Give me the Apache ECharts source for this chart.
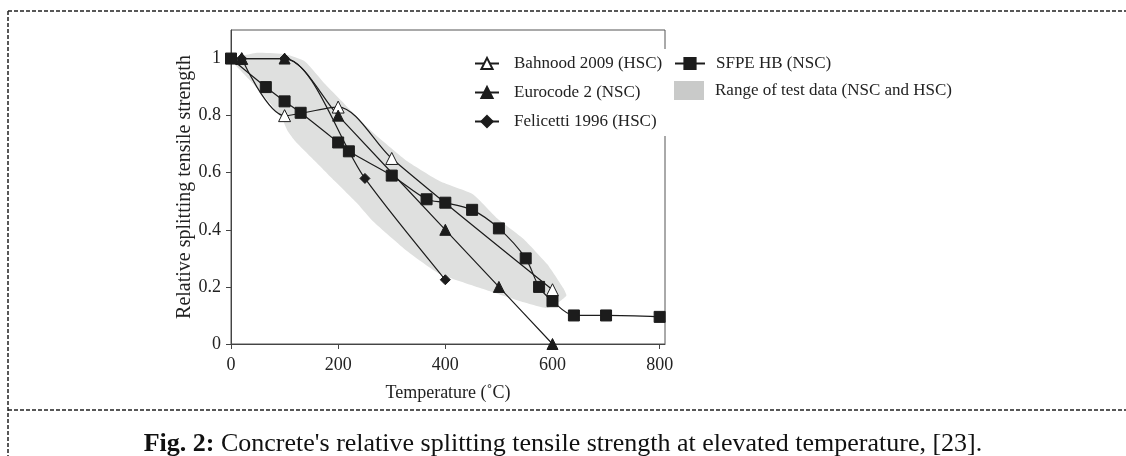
<!DOCTYPE html>
<html>
<head>
<meta charset="utf-8">
<script src="https://cdn.jsdelivr.net/npm/echarts@6/dist/echarts.min.js"></script>
<style>
  html, body { margin: 0; padding: 0; background: #fff; }
  #chart { width: 1126px; height: 456px; }
</style>
</head>
<body>
<div id="chart"></div>
<script>
// temperatures (°C) and relative strengths
const sfpeTemp = [0, 65, 100, 130, 200, 220, 300, 365, 400, 450, 500, 550, 575, 600, 640, 700, 800];
const sfpeVal = [1, 0.9, 0.85, 0.81, 0.706, 0.675, 0.59, 0.507, 0.495, 0.47, 0.405, 0.3, 0.2, 0.15, 0.1, 0.1, 0.095];

const bahnoodTemp = [20, 100, 200, 300, 600];
const bahnoodVal = [1, 0.8, 0.83, 0.65, 0.19];

const eurocodeTemp = [20, 100, 200, 400, 500, 600];
const eurocodeVal = [1, 1, 0.8, 0.4, 0.2, 0];

const felicettiTemp = [20, 100, 250, 400];
const felicettiVal = [1, 1, 0.58, 0.225];

// grey range of test data: upper edge left->right, lower edge right->left
const rangeUpperTemp = [0, 50, 101, 138, 176, 207, 237, 269, 329, 390, 452, 497, 545, 590, 620, 626];
const rangeUpperVal = [1.0, 1.02, 1.015, 0.99, 0.91, 0.85, 0.79, 0.734, 0.64, 0.57, 0.524, 0.44, 0.37, 0.28, 0.196, 0.17];
const rangeLowerTemp = [614, 590, 540, 465, 390, 329, 265, 237, 194, 157, 120, 106, 95, 50, 2];
const rangeLowerVal = [0.15, 0.126, 0.15, 0.196, 0.245, 0.325, 0.43, 0.49, 0.57, 0.64, 0.71, 0.745, 0.79, 0.895, 0.99];

const xTicks = [0, 200, 400, 600, 800];
const yTicks = [0, 0.2, 0.4, 0.6, 0.8, 1];

const zip = (a, b) => a.map((v, i) => [v, b[i]]);
const rangePoly = zip(rangeUpperTemp, rangeUpperVal).concat(zip(rangeLowerTemp, rangeLowerVal));

const serif = '"Liberation Serif", "DejaVu Serif", serif';
const ink = '#1c1c1c';

const chart = echarts.init(document.getElementById('chart'));

const lineSeries = (name, t, v, symbol, size, fill) => ({
  name: name,
  type: 'line',
  data: zip(t, v),
  smooth: 0.3,
  symbol: symbol,
  symbolSize: size,
  showAllSymbol: true,
  lineStyle: { color: ink, width: 1.2 },
  itemStyle: { color: fill, borderColor: ink, borderWidth: 1 },
  z: 3
});

const option = {
  backgroundColor: '#fff',
  animation: false,
  grid: {
    left: 231, right: 461, top: 30, bottom: 112,
    show: true, borderColor: '#555', borderWidth: 1
  },
  xAxis: {
    type: 'value', min: 0, max: 810, interval: 200,
    name: 'Temperature (˚C)', nameLocation: 'middle', nameGap: 40,
    nameTextStyle: { fontFamily: serif, fontSize: 18, color: '#222' },
    axisLine: { lineStyle: { color: '#444' } },
    axisTick: { show: true, length: 5, lineStyle: { color: '#444' } },
    axisLabel: {
      fontFamily: serif, fontSize: 18, color: '#222', margin: 12, showMaxLabel: false,
      formatter: v => xTicks.includes(v) ? String(v) : ''
    },
    splitLine: { show: false }
  },
  yAxis: {
    type: 'value', min: 0, max: 1.1, interval: 0.2,
    name: 'Relative splitting tensile strength', nameLocation: 'middle', nameGap: 36,
    nameTextStyle: { fontFamily: serif, fontSize: 20, color: '#222' },
    axisLine: { lineStyle: { color: '#444' } },
    axisTick: { show: true, length: 5, lineStyle: { color: '#444' } },
    axisLabel: {
      fontFamily: serif, fontSize: 18, color: '#222', margin: 10, showMaxLabel: false,
      formatter: v => {
        const t = yTicks.find(k => Math.abs(k - v) < 1e-6);
        return t === undefined ? '' : String(t);
      }
    },
    splitLine: { show: false }
  },
  legend: [
    {
      orient: 'vertical', left: 470, top: 49, padding: [6, 6, 6, 4],
      itemWidth: 24, itemHeight: 14, itemGap: 12,
      backgroundColor: '#fff', z: 10,
      textStyle: { fontFamily: serif, fontSize: 17, color: '#222', padding: [0, 0, 0, 10] },
      data: ['Bahnood 2009 (HSC)', 'Eurocode 2 (NSC)', 'Felicetti 1996 (HSC)']
    },
    {
      orient: 'vertical', left: 674, top: 55, padding: 0,
      itemWidth: 30, itemHeight: 14,
      backgroundColor: '#fff', z: 10,
      textStyle: { fontFamily: serif, fontSize: 17, color: '#222', padding: [0, 0, 0, 6] },
      data: ['SFPE HB (NSC)']
    },
    {
      orient: 'vertical', left: 674, top: 81, padding: 0,
      itemWidth: 30, itemHeight: 19,
      backgroundColor: '#fff', z: 10,
      textStyle: { fontFamily: serif, fontSize: 17, color: '#222', padding: [0, 0, 0, 6] },
      data: [{ name: 'Range of test data (NSC and HSC)', icon: 'rect', itemStyle: { color: '#c9cac9' } }]
    }
  ],
  graphic: [
    { type: 'line', shape: { x1: 8, y1: 11, x2: 1126, y2: 11 }, style: { stroke: '#222', lineWidth: 1.5, lineDash: [4, 2] } },
    { type: 'line', shape: { x1: 8, y1: 11, x2: 8, y2: 456 }, style: { stroke: '#222', lineWidth: 1.5, lineDash: [4, 2] } },
    { type: 'line', shape: { x1: 8, y1: 410, x2: 1126, y2: 410 }, style: { stroke: '#222', lineWidth: 1.5, lineDash: [4, 2] } },
    {
      type: 'text', left: 'center', top: 431,
      style: {
        text: '{b|Fig. 2:} Concrete\'s relative splitting tensile strength at elevated temperature, [23].',
        font: '26px "Liberation Serif", serif', fill: '#111',
        rich: { b: { fontWeight: 'bold', fontSize: 26, fontFamily: serif, fill: '#111' } }
      }
    }
  ],
  series: [
    {
      name: 'Range of test data (NSC and HSC)',
      type: 'custom',
      data: rangePoly,
      z: 1,
      itemStyle: { color: '#dfe0df' },
      renderItem: (params, api) => {
        if (params.dataIndex !== 0) return null;
        const pts = rangePoly.map(p => api.coord(p));
        return {
          type: 'polygon',
          shape: { points: pts, smooth: 0.15 },
          style: { fill: '#dfe0df' }
        };
      },
      encode: { x: 0, y: 1 }
    },
    lineSeries('Bahnood 2009 (HSC)', bahnoodTemp, bahnoodVal, 'triangle', 12, '#fff'),
    lineSeries('Eurocode 2 (NSC)', eurocodeTemp, eurocodeVal, 'triangle', 11, ink),
    lineSeries('Felicetti 1996 (HSC)', felicettiTemp, felicettiVal, 'diamond', 10, ink),
    lineSeries('SFPE HB (NSC)', sfpeTemp, sfpeVal, 'rect', 11, ink)
  ]
};

chart.setOption(option);
</script>
</body>
</html>
